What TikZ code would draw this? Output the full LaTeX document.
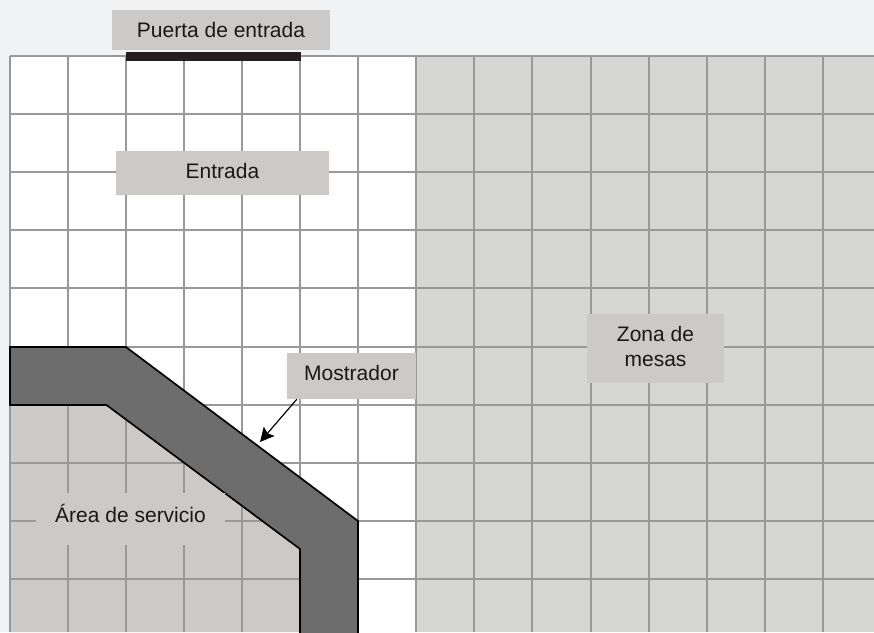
\documentclass[tikz,border=0pt]{standalone}
\usepackage{fontspec}
\setmainfont{Liberation Sans}
\usetikzlibrary{arrows.meta}
\definecolor{fondo}{HTML}{F1F2F4}
\definecolor{mesas}{HTML}{D6D6D4}
\definecolor{servicio}{HTML}{CBCAC8}
\definecolor{rejilla}{HTML}{999999}
\definecolor{barra}{HTML}{6D6D6D}
\definecolor{puerta}{HTML}{231F20}
\tikzset{
  gridline/.style={draw=rejilla, line width=2pt},
  etiqueta/.style={fill=servicio, inner sep=0pt, align=center, text=black!90,
    font=\fontsize{21}{25}\selectfont},
}

\begin{document}
\begin{tikzpicture}[x=1pt, y=-1pt]
\useasboundingbox (0,0) rectangle (874,632);
\clip (0,0) rectangle (874,632);
\fill[fondo] (0,0) rectangle (874,632);
\fill[white] (10,56) rectangle (416,632);
\fill[mesas] (416,56) rectangle (874,632);
\fill[servicio] (10,405) -- (106.5,405) -- (300,549) -- (300,632) -- (10,632) -- cycle;
% cuadricula
\foreach \i in {0,...,14}
  \draw[gridline] ({10+58.05*\i},56) -- ({10+58.05*\i},632);
\foreach \j in {0,...,9}
  \draw[gridline] (10,{56+58.1*\j}) -- (874,{56+58.1*\j});
% mostrador
\draw[fill=barra, line width=1.7pt, line join=miter]
  (10,347) -- (126,347) -- (358,521) -- (358,645) -- (300,645) -- (300,549) -- (106.5,405) -- (10,405) -- cycle;
\fill[puerta] (126,52) rectangle (301,61);
\node[etiqueta, minimum width=218pt, text height=27pt, text depth=13pt] (puertaentrada) at (221,30) {Puerta de entrada};
\node[etiqueta, minimum width=213pt, text height=28pt, text depth=16.5pt] (entrada) at (222.5,173.2) {Entrada};
\node[etiqueta, minimum width=129pt, text height=27pt, text depth=19pt] (mostrador) at (351.5,376) {Mostrador};
\node[etiqueta, minimum width=137pt, text height=52.7pt, text depth=16pt] (zona) at (655.5,348.3) {Zona de\\mesas};
\node[etiqueta, minimum width=189pt, text height=29.7pt, text depth=22.3pt] (area) at (130.5,519) {Área de servicio};
\coordinate (borde) at (260,442);
\draw[-{Stealth[length=14pt, width=14pt, inset=2.5pt]}, line width=1.2pt] (mostrador.203) -- (borde);
\end{tikzpicture}
\end{document}
